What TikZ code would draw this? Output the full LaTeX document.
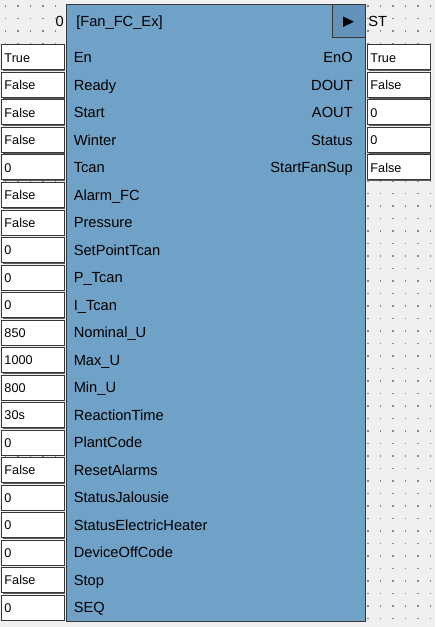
\documentclass[tikz,border=0pt]{standalone}
\usepackage{fontspec}
\setmainfont{Liberation Sans}
\usetikzlibrary{positioning,shadows}

\definecolor{panelbg}{RGB}{240,240,240}
\definecolor{griddot}{RGB}{135,135,135}
\definecolor{fbdblue}{RGB}{112,161,199}
\definecolor{fbddark}{RGB}{98,146,186}
\definecolor{fbdline}{RGB}{55,55,55}
\definecolor{fbdshadow}{RGB}{95,95,95}

\tikzset{
  pinname/.style={font=\fontsize{11}{13}\selectfont, text height=8pt, text depth=0pt, inner sep=0pt},
  valbox/.style={draw=fbdline, fill=white, line width=0.75pt,
    drop shadow={shadow xshift=0.8pt, shadow yshift=-0.8pt, fill=fbdshadow, opacity=1},
    minimum height=18.75pt, text width=42.4pt, inner xsep=2.25pt, inner ysep=0pt, align=left,
    font=\fontsize{9.5}{11}\selectfont, text height=6.8pt, text depth=0pt},
}

\begin{document}
\begin{tikzpicture}[x=0.75pt,y=-0.75pt]

  % Background
  \fill[panelbg] (0,0) rectangle (435,627);
  \useasboundingbox (0,0) rectangle (435,627);

  % Grid dots
  \foreach \i in {0,...,34}
    \foreach \j in {0,...,49}
      \fill[griddot] (4.75+12.5*\i,5.25+12.5*\j) rectangle ++(1.5,1.5);

  % Function block
  \node[draw=fbdline, fill=fbdblue, line width=0.75pt,
        drop shadow={shadow xshift=1pt, shadow yshift=-1pt, fill=fbdshadow, opacity=1},
        minimum width=224.25pt, minimum height=462pt, inner sep=0pt] (fb) at (215.5,313) {};
  \node[draw=fbdline, fill=fbddark, line width=0.75pt, minimum width=24.75pt,
        minimum height=24.4pt, inner sep=0pt, anchor=north east] (runbox) at (fb.north east) {};
  \fill[black] (343,16.5) -- (354,21.75) -- (343,27) -- cycle;

  % Header texts
  \node[pinname, anchor=east] (execno) at (64,21) {0};
  \node[pinname, anchor=west] (title) at (76,21) {[Fan\_FC\_Ex]};
  \node[pinname, anchor=west] (runlabel) at (368,21) {ST};

  % Inputs
  \foreach \name/\val [count=\i from 0] in {En/True, Ready/False, Start/False, Winter/False,
      Tcan/0, Alarm\_FC/False, Pressure/False, SetPointTcan/0, P\_Tcan/0, I\_Tcan/0,
      Nominal\_U/850, Max\_U/1000, Min\_U/800, ReactionTime/30s, PlantCode/0,
      ResetAlarms/False, StatusJalousie/0, StatusElectricHeater/0, DeviceOffCode/0,
      Stop/False, SEQ/0}
  {
    \node[valbox] (inv\i) at (32.75,57.5+27.5*\i) {\val};
    \node[pinname, anchor=west] (in\i) at (73.5,57.5+27.5*\i) {\name};
  }

  % Outputs
  \foreach \name/\val [count=\i from 0] in {EnO/True, DOUT/False, AOUT/0, Status/0,
      StartFanSup/False}
  {
    \node[valbox] (outv\i) at (398.75,57.5+27.5*\i) {\val};
    \node[pinname, anchor=east] (out\i) at (353,57.5+27.5*\i) {\name};
  }

\end{tikzpicture}
\end{document}
